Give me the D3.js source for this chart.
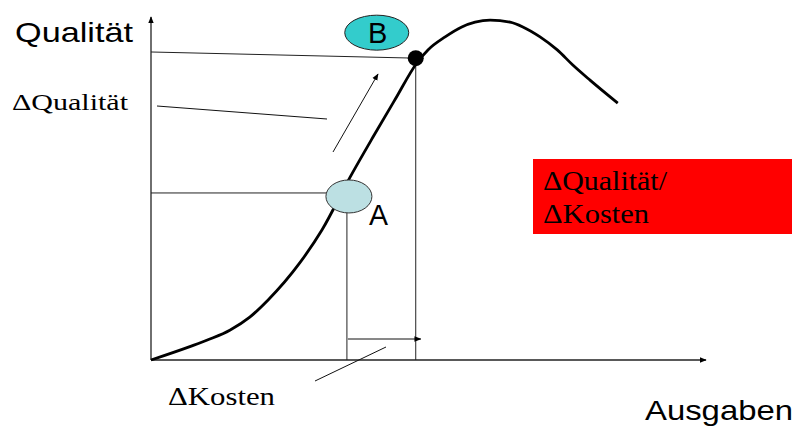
<!DOCTYPE html>
<html>
<head>
<meta charset="utf-8">
<script src="https://cdn.jsdelivr.net/npm/d3@7"></script>
<style>
  body { margin: 0; background: #fff; }
  svg { display: block; }
</style>
</head>
<body>
<svg id="chart" width="798" height="427"></svg>
<script>
// curve: Qualität over Ausgaben (arbitrary units 0..100)
const ausgaben = [0, 7.0, 10.6, 14.2, 17.8, 21.1, 26.8, 30.8, 35.9, 40.0, 44.0, 47.9, 49.9, 53.0, 56.0, 58.4, 61.1, 64.7, 67.0, 70.1, 73.2, 76.0, 79.1, 84.1];
const qualitaet = [0, 3.9, 6.1, 8.7, 12.5, 17.5, 28.3, 37.9, 53.4, 65.0, 76.0, 86.6, 90.4, 94.2, 97.1, 98.5, 99.1, 98.5, 97.1, 94.2, 90.4, 86.0, 81.6, 74.9];

// the two marked points
const pointA = { name: 'A', x: 35.3, y: 48.7 };
const pointB = { name: 'B', x: 47.7, y: 88 };

const labels = {
  yAxis: 'Qualität',
  xAxis: 'Ausgaben',
  dQual: '\u0394Qualität',
  dKost: '\u0394Kosten',
  ratio: ['\u0394Qualität/', '\u0394Kosten']
};

const svg = d3.select('#chart');
const sans = 'Liberation Sans, Arial, sans-serif';
const serif = 'Liberation Serif, Times New Roman, serif';

const x = d3.scaleLinear().domain([0, 100]).range([151, 706]);
const y = d3.scaleLinear().domain([0, 100]).range([360, 17]);

const defs = svg.append('defs');
defs.append('marker')
  .attr('id', 'arr')
  .attr('viewBox', '0 0 10 10')
  .attr('refX', 9).attr('refY', 5)
  .attr('markerWidth', 7).attr('markerHeight', 7)
  .attr('markerUnits', 'userSpaceOnUse')
  .attr('orient', 'auto')
  .append('path')
  .attr('d', 'M0,1 L10,5 L0,9 Z')
  .attr('fill', '#000');

// axes
svg.append('line')
  .attr('x1', x(0)).attr('y1', y(0))
  .attr('x2', x(0)).attr('y2', y(100))
  .attr('stroke', '#222').attr('stroke-width', 1.3)
  .attr('marker-end', 'url(#arr)');
svg.append('line')
  .attr('x1', x(0)).attr('y1', y(0))
  .attr('x2', x(100)).attr('y2', y(0))
  .attr('stroke', '#222').attr('stroke-width', 1.3)
  .attr('marker-end', 'url(#arr)');

// guide lines for B
svg.append('line')
  .attr('x1', x(0)).attr('y1', y(pointB.y + 1.8))
  .attr('x2', x(pointB.x)).attr('y2', y(pointB.y))
  .attr('stroke', '#222').attr('stroke-width', 1);
svg.append('line')
  .attr('x1', x(pointB.x)).attr('y1', y(pointB.y))
  .attr('x2', x(pointB.x)).attr('y2', y(0))
  .attr('stroke', '#222').attr('stroke-width', 1);

// guide lines for A
svg.append('line')
  .attr('x1', x(0)).attr('y1', y(pointA.y))
  .attr('x2', x(pointA.x) - 20).attr('y2', y(pointA.y))
  .attr('stroke', '#222').attr('stroke-width', 1);
svg.append('line')
  .attr('x1', x(pointA.x)).attr('y1', y(pointA.y) + 18)
  .attr('x2', x(pointA.x)).attr('y2', y(0))
  .attr('stroke', '#222').attr('stroke-width', 1);

// curve
const line = d3.line()
  .x(i => x(ausgaben[i]))
  .y(i => y(qualitaet[i]))
  .curve(d3.curveMonotoneX);
svg.append('path')
  .attr('d', line(d3.range(ausgaben.length)))
  .attr('fill', 'none')
  .attr('stroke', '#000')
  .attr('stroke-width', 2.8)
  .attr('stroke-linejoin', 'round');

// point A ellipse
svg.append('ellipse')
  .attr('cx', x(pointA.x) + 2).attr('cy', y(pointA.y) + 3.5)
  .attr('rx', 23).attr('ry', 16.5)
  .attr('fill', '#bce0e3')
  .attr('stroke', '#333').attr('stroke-width', 1);
svg.append('text')
  .attr('x', x(pointA.x) + 22).attr('y', y(pointA.y) + 32)
  .attr('font-family', sans).attr('font-size', 29)
  .attr('textLength', 19).attr('lengthAdjust', 'spacingAndGlyphs')
  .text(pointA.name);

// point B dot + label
svg.append('circle')
  .attr('cx', x(pointB.x)).attr('cy', y(pointB.y))
  .attr('r', 8).attr('fill', '#000');
svg.append('ellipse')
  .attr('cx', x(pointB.x) - 39).attr('cy', y(pointB.y) - 25.5)
  .attr('rx', 32).attr('ry', 17.5)
  .attr('fill', '#33cccc')
  .attr('stroke', '#222').attr('stroke-width', 1);
svg.append('text')
  .attr('x', x(pointB.x) - 38).attr('y', y(pointB.y) - 15)
  .attr('text-anchor', 'middle')
  .attr('font-family', sans).attr('font-size', 29)
  .text(pointB.name);

// ΔQualität arrow (along curve) and ΔKosten arrow (along axis)
svg.append('line')
  .attr('x1', 333).attr('y1', 152)
  .attr('x2', 378).attr('y2', 74)
  .attr('stroke', '#111').attr('stroke-width', 1)
  .attr('marker-end', 'url(#arr)');
svg.append('line')
  .attr('x1', x(pointA.x) + 1).attr('y1', 339)
  .attr('x2', x(pointB.x) + 5).attr('y2', 339)
  .attr('stroke', '#111').attr('stroke-width', 1)
  .attr('marker-end', 'url(#arr)');

// pointer lines
svg.append('line')
  .attr('x1', 157).attr('y1', 106).attr('x2', 327).attr('y2', 119)
  .attr('stroke', '#111').attr('stroke-width', 1);
svg.append('line')
  .attr('x1', 315).attr('y1', 381).attr('x2', 386).attr('y2', 347)
  .attr('stroke', '#111').attr('stroke-width', 1);

// texts
svg.append('text')
  .attr('x', 15).attr('y', 42)
  .attr('font-family', sans).attr('font-size', 28)
  .attr('textLength', 118).attr('lengthAdjust', 'spacingAndGlyphs')
  .text(labels.yAxis);
svg.append('text')
  .attr('x', 645).attr('y', 420)
  .attr('font-family', sans).attr('font-size', 28)
  .attr('textLength', 148).attr('lengthAdjust', 'spacingAndGlyphs')
  .text(labels.xAxis);
svg.append('text')
  .attr('x', 12).attr('y', 110)
  .attr('font-family', serif).attr('font-size', 24)
  .attr('textLength', 116).attr('lengthAdjust', 'spacingAndGlyphs')
  .text(labels.dQual);
svg.append('text')
  .attr('x', 168).attr('y', 405)
  .attr('font-family', serif).attr('font-size', 26)
  .attr('textLength', 107).attr('lengthAdjust', 'spacingAndGlyphs')
  .text(labels.dKost);

// red ratio box
svg.append('rect')
  .attr('x', 533).attr('y', 159)
  .attr('width', 259).attr('height', 75)
  .attr('fill', '#ff0000');
svg.append('text')
  .attr('x', 543).attr('y', 190)
  .attr('font-family', serif).attr('font-size', 27)
  .attr('textLength', 124).attr('lengthAdjust', 'spacingAndGlyphs')
  .text(labels.ratio[0]);
svg.append('text')
  .attr('x', 543).attr('y', 223)
  .attr('font-family', serif).attr('font-size', 27)
  .attr('textLength', 106).attr('lengthAdjust', 'spacingAndGlyphs')
  .text(labels.ratio[1]);
</script>
</body>
</html>
